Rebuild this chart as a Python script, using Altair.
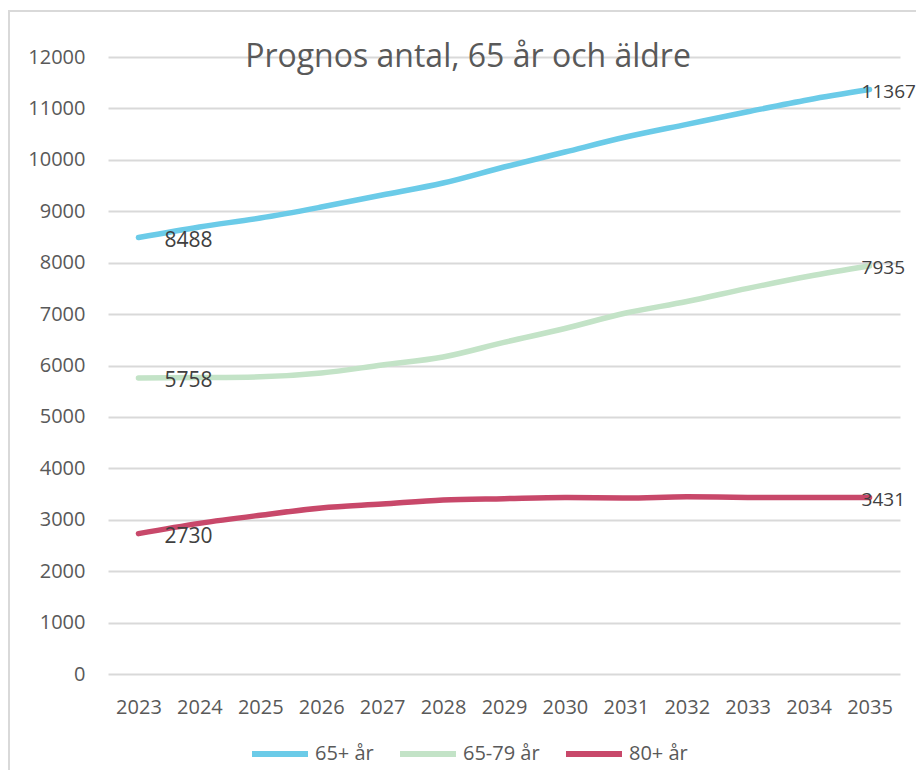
import altair as alt
import pandas as pd

years = [2023, 2024, 2025, 2026, 2027, 2028, 2029, 2030, 2031, 2032, 2033, 2034, 2035]
series_names = ["65+ år", "65-79 år", "80+ år"]
total_65 = [8488, 8695, 8868, 9082, 9315, 9549, 9860, 10152, 10443, 10690, 10935, 11170, 11367]
age_65_79 = [5758, 5765, 5780, 5854, 6010, 6165, 6450, 6720, 7020, 7245, 7500, 7735, 7935]
age_80 = [2730, 2930, 3088, 3228, 3305, 3384, 3410, 3432, 3423, 3445, 3435, 3432, 3431]
colors = ["#6BCBE8", "#C3E3C7", "#C8486A"]
y_ticks = list(range(0, 12001, 1000))
title_text = "Prognos antal, 65 år och äldre"

rows = []
for name, vals in zip(series_names, [total_65, age_65_79, age_80]):
    for i, (yr, v) in enumerate(zip(years, vals)):
        pos = "first" if i == 0 else ("last" if i == len(years) - 1 else "mid")
        rows.append({"year": str(yr), "serie": name, "value": v, "pos": pos})
df = pd.DataFrame(rows)

FONT = "Open Sans"
W, H = 792, 617

x_enc = alt.X("year:O", scale=alt.Scale(type="point", padding=0.5),
              axis=alt.Axis(title=None, labelAngle=0, domain=False, ticks=False,
                            labelPadding=23, labelFontSize=20, labelFont=FONT,
                            labelColor="#595959", grid=False))
y_enc = alt.Y("value:Q", scale=alt.Scale(domain=[0, 12000], nice=False),
              axis=alt.Axis(title=None, values=y_ticks, format="d", domain=False, ticks=False,
                            labelPadding=23, labelFontSize=20, labelFont=FONT,
                            labelColor="#595959", gridColor="#D9D9D9", gridWidth=2))
color_enc = alt.Color("serie:N", scale=alt.Scale(domain=series_names, range=colors),
                      sort=series_names,
                      legend=alt.Legend(title=None, orient="none", direction="horizontal",
                                        legendX=141, legendY=666,
                                        symbolType="stroke", symbolSize=3136,
                                        symbolStrokeWidth=6, labelFontSize=20,
                                        labelFont=FONT, labelColor="#595959",
                                        columnPadding=14, labelOffset=4))

border = alt.Chart(alt.Data(values=[{}])).mark_rect(
    fill=None, stroke="#D9D9D9", strokeWidth=2
).encode(x=alt.value(-99), x2=alt.value(W + 100), y=alt.value(-46), y2=alt.value(H + 200))

title = alt.Chart(alt.Data(values=[{"t": title_text}])).mark_text(
    align="center", baseline="alphabetic", fontSize=32, font=FONT, color="#595959"
).encode(x=alt.value(360), y=alt.value(10), text="t:N")

lines = alt.Chart(df).mark_line(interpolate="monotone", strokeWidth=5.5, strokeCap="round").encode(
    x=x_enc, y=y_enc, color=color_enc, detail="serie:N"
)

first_labels = alt.Chart(df).transform_filter(alt.datum.pos == "first").mark_text(
    align="left", baseline="middle", dx=26, dy=3, fontSize=21, font=FONT, color="#404040"
).encode(x=alt.X("year:O"), y=alt.Y("value:Q"), text="value:Q")

last_labels = alt.Chart(df).transform_filter(alt.datum.pos == "last").mark_text(
    align="left", baseline="middle", dx=-8, dy=2, fontSize=19, font=FONT, color="#404040"
).encode(x=alt.X("year:O"), y=alt.Y("value:Q"), text="value:Q")

chart = alt.layer(border, lines, title, first_labels, last_labels).properties(
    width=W, height=H,
    autosize=alt.AutoSizeParams(type="none"),
    padding={"left": 100, "top": 49, "right": 16, "bottom": 96},
    background="white",
).configure_view(stroke=None)

chart.save("out.html", embed_options={"renderer": "svg", "actions": False})
